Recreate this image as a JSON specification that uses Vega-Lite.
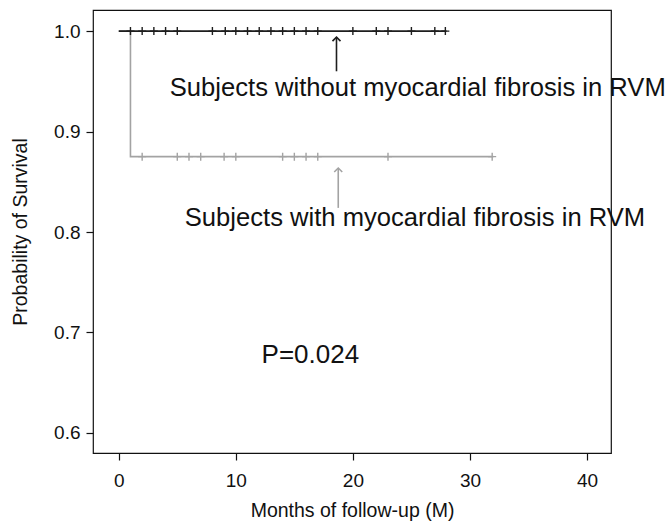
{
  "$schema": "https://vega.github.io/schema/vega-lite/v6.json",
  "width": 518,
  "height": 443,
  "autosize": "none",
  "padding": {"left": 93, "top": 10, "right": 61, "bottom": 71},
  "background": "white",
  "config": {
    "view": {"stroke": "#111", "strokeWidth": 1.2},
    "font": "Liberation Sans",
    "axis": {
      "labelFont": "Liberation Sans",
      "titleFont": "Liberation Sans",
      "labelFontSize": 19,
      "titleFontSize": 19.5,
      "titleFontWeight": "normal",
      "labelColor": "#111",
      "titleColor": "#111",
      "tickColor": "#111",
      "tickSize": 7,
      "tickWidth": 1.2,
      "domain": false,
      "grid": false
    }
  },
  "datasets": {
    "curves": [
      {"group": "with", "order": 1, "month": 0, "surv": 1.0},
      {"group": "with", "order": 2, "month": 1, "surv": 1.0},
      {"group": "with", "order": 3, "month": 1, "surv": 0.875},
      {"group": "with", "order": 4, "month": 32, "surv": 0.875},
      {"group": "without", "order": 1, "month": 0, "surv": 1.0},
      {"group": "without", "order": 2, "month": 28, "surv": 1.0}
    ],
    "censor": [
      {"group": "with", "month": 2, "surv": 0.875},
      {"group": "with", "month": 5, "surv": 0.875},
      {"group": "with", "month": 6, "surv": 0.875},
      {"group": "with", "month": 7, "surv": 0.875},
      {"group": "with", "month": 9, "surv": 0.875},
      {"group": "with", "month": 10, "surv": 0.875},
      {"group": "with", "month": 14, "surv": 0.875},
      {"group": "with", "month": 15, "surv": 0.875},
      {"group": "with", "month": 16, "surv": 0.875},
      {"group": "with", "month": 17, "surv": 0.875},
      {"group": "with", "month": 23, "surv": 0.875},
      {"group": "with", "month": 31.9, "surv": 0.875},
      {"group": "without", "month": 1, "surv": 1.0},
      {"group": "without", "month": 2, "surv": 1.0},
      {"group": "without", "month": 3, "surv": 1.0},
      {"group": "without", "month": 4, "surv": 1.0},
      {"group": "without", "month": 5, "surv": 1.0},
      {"group": "without", "month": 8, "surv": 1.0},
      {"group": "without", "month": 9.1, "surv": 1.0},
      {"group": "without", "month": 10, "surv": 1.0},
      {"group": "without", "month": 11, "surv": 1.0},
      {"group": "without", "month": 12, "surv": 1.0},
      {"group": "without", "month": 13, "surv": 1.0},
      {"group": "without", "month": 14, "surv": 1.0},
      {"group": "without", "month": 15, "surv": 1.0},
      {"group": "without", "month": 16, "surv": 1.0},
      {"group": "without", "month": 17, "surv": 1.0},
      {"group": "without", "month": 20, "surv": 1.0},
      {"group": "without", "month": 22, "surv": 1.0},
      {"group": "without", "month": 23, "surv": 1.0},
      {"group": "without", "month": 25, "surv": 1.0},
      {"group": "without", "month": 27, "surv": 1.0},
      {"group": "without", "month": 27.9, "surv": 1.0}
    ],
    "arrows": [
      {"group": "without", "month": 18.6, "head": 0.994, "tail": 0.960},
      {"group": "with", "month": 18.75, "head": 0.8637, "tail": 0.824}
    ],
    "labels": [
      {"month": 4.36, "surv": 0.9433, "label": "Subjects without myocardial fibrosis in RVM", "size": "big"},
      {"month": 5.64, "surv": 0.814, "label": "Subjects with myocardial fibrosis in RVM", "size": "big"},
      {"month": 12.2, "surv": 0.678, "label": "P=0.024", "size": "p"}
    ]
  },
  "layer": [
    {
      "data": {"name": "curves"},
      "mark": {"type": "line", "strokeWidth": 1.6, "clip": false},
      "encoding": {
        "x": {
          "field": "month", "type": "quantitative",
          "scale": {"domain": [-2.2, 42.05], "nice": false, "zero": false},
          "axis": {"values": [0, 10, 20, 30, 40], "title": "Months of follow-up (M)", "labelPadding": 11, "titlePadding": 11}
        },
        "y": {
          "field": "surv", "type": "quantitative",
          "scale": {"domain": [0.58, 1.021], "nice": false, "zero": false},
          "axis": {"values": [0.6, 0.7, 0.8, 0.9, 1.0], "format": ".1f", "title": "Probability of Survival", "labelPadding": 6, "titlePadding": 23}
        },
        "detail": {"field": "group"},
        "order": {"field": "order"},
        "color": {
          "field": "group", "type": "nominal", "legend": null,
          "scale": {"domain": ["with", "without"], "range": ["#a3a3a3", "#1e1e1e"]}
        }
      }
    },
    {
      "data": {"name": "censor"},
      "mark": {"type": "point", "shape": "M-1,0L1,0M0,-1L0,1", "filled": false, "size": 64, "strokeWidth": 1.4, "opacity": 1},
      "encoding": {
        "x": {"field": "month", "type": "quantitative"},
        "y": {"field": "surv", "type": "quantitative"},
        "color": {"field": "group", "type": "nominal", "legend": null}
      }
    },
    {
      "data": {"name": "arrows"},
      "mark": {"type": "rule", "strokeWidth": 1.6},
      "encoding": {
        "x": {"field": "month", "type": "quantitative"},
        "y": {"field": "head", "type": "quantitative"},
        "y2": {"field": "tail"},
        "color": {"field": "group", "type": "nominal", "legend": null}
      }
    },
    {
      "data": {"name": "arrows"},
      "mark": {"type": "point", "shape": "M-1,1L0,0L1,1", "filled": false, "size": 64, "strokeWidth": 1.6, "opacity": 1},
      "encoding": {
        "x": {"field": "month", "type": "quantitative"},
        "y": {"field": "head", "type": "quantitative"},
        "color": {"field": "group", "type": "nominal", "legend": null}
      }
    },
    {
      "data": {"name": "labels"},
      "mark": {"type": "text", "align": "left", "baseline": "middle", "font": "Liberation Sans", "color": "#111", "clip": false},
      "encoding": {
        "x": {"field": "month", "type": "quantitative"},
        "y": {"field": "surv", "type": "quantitative"},
        "text": {"field": "label"},
        "size": {"field": "size", "type": "nominal", "legend": null, "scale": {"domain": ["big", "p"], "range": [25.6, 26]}}
      }
    }
  ]
}
